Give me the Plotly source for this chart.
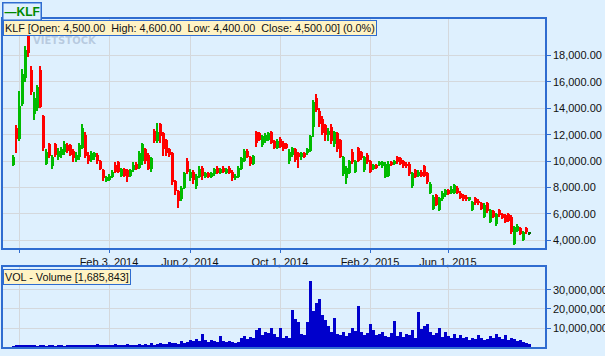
import plotly.graph_objects as go

# ---------------- data ----------------
opens = [9700,12500,11700,14300,16300,19500,16900,13600,14000,16900,
         13400,9800,11300,9600,11300,10300,10500,10700,11200,11200,
         10800,10100,10300,11000,12000,10500,10100,10300,10500,10000,
         9300,8500,8600,8800,9700,9900,8900,9400,9300,8900,
         9300,9800,9500,10000,10900,10500,9400,12300,11500,12800,
         12100,11600,10900,10600,8500,7700,7100,8000,10000,8700,
         9200,8100,8800,9500,8800,9100,8800,9000,9500,9100,
         9500,9100,9500,9200,8700,8800,9400,10000,10800,10300,
         9800,12200,12100,11200,11500,11600,12200,11500,11000,11700,
         11400,11300,10000,10500,10900,10600,10300,10600,10600,10800,
         12600,14800,13800,13200,12700,12000,12600,11300,12100,11600,
         9000,8700,9100,10700,9200,11000,10700,9300,10500,10000,
         9400,9700,9700,9600,8800,8900,9900,9800,10300,10200,
         10000,9800,9800,8100,9300,8900,9200,9600,9100,7600,
         6400,7400,6300,7100,7400,7800,7600,7600,8000,7600,
         7400,7300,7050,6300,7200,7000,6800,5800,6800,5400,
         6200,5200,6300,6000,5900,6000,5800,3700,4700,4900,
         4000,4900,4500]

highs = [10500,12700,15300,17000,18700,19700,17200,15200,15800,17200,
         13500,10900,11400,10500,11400,11000,11100,11500,11400,11300,
         10900,10700,11400,12800,12200,10700,10800,10700,10600,10100,
         9400,8900,9000,9300,9900,10000,9500,9500,9400,9400,
         9900,9900,10800,11400,11000,10600,10300,12400,12900,12900,
         12200,11700,11000,10700,8600,7800,8100,9200,10200,9400,
         9300,9000,9600,9600,9200,9200,9200,9500,9600,9500,
         9600,9500,9600,9300,9000,9600,10300,10900,10900,10400,
         10500,12300,12200,12000,12100,12200,12300,11600,11700,11800,
         11500,11400,10900,11100,11000,10700,10700,10700,11000,12000,
         14600,15060,14000,13400,12800,12500,12800,12300,12200,11700,
         10400,9600,10100,10900,10100,11100,10800,10400,10600,10100,
         9800,9800,10000,10000,9900,10000,10000,10100,10400,10300,
         10100,9900,9900,9200,9400,9300,9300,9700,9200,8400,
         7400,7500,7300,7700,7900,7900,8100,8300,8100,7700,
         7500,7400,7300,7000,7300,7100,6900,6800,6900,6400,
         6300,6100,6400,6100,6000,6100,5900,5100,5200,5000,
         4700,5000,4600]

lows = [9600,10600,11500,14200,16000,17900,15000,13100,13800,14000,
        10800,9700,10200,9400,10300,10100,10200,10500,10600,10400,
        9900,9900,10100,10900,10200,9800,9900,10100,9800,9300,
        8500,8400,8500,8700,9100,9100,8800,8800,8400,8800,
        9200,9300,9400,9700,9800,9300,9200,11400,11400,11400,
        10400,10400,10300,8200,7400,6450,7000,7900,9000,8500,
        8300,7900,8700,8600,8700,8700,8700,8900,9000,9000,
        9100,9000,9000,8500,8600,8700,9300,9900,10200,9600,
        9700,11100,11500,11100,11400,11500,11300,10900,10900,11000,
        10800,10900,9800,10300,9900,9500,10100,10200,10500,10700,
        11800,13700,12600,12000,11500,11500,11300,11100,10700,10200,
        8900,8300,9000,9800,9100,9900,10100,9200,9800,9100,
        9300,9400,9600,9500,8700,8800,9600,9700,9800,9700,
        9500,9500,8900,8000,8700,8800,8800,8800,8300,7500,
        6300,6600,6200,7000,7300,7400,7500,7500,7500,7100,
        7000,7000,7000,6200,6700,6700,6300,5700,6100,5300,
        5700,5100,5800,5600,5300,5400,4500,3650,4600,4400,
        3950,4500,4400]

closes = [10300,11700,14200,16600,18400,18200,15200,14800,15600,14100,
          11000,10700,10400,10300,10500,10800,10900,11300,10800,10500,
          10200,10500,11200,12500,10400,10000,10600,10600,10000,9400,
          8700,8800,8900,9200,9200,9200,9400,8900,8800,9300,
          9700,9400,10600,11300,10000,9400,10200,11500,12200,11900,
          10900,10600,10500,8400,7700,7000,8000,9100,9200,9200,
          8600,8900,9400,8900,9100,8800,9100,9400,9100,9400,
          9200,9400,9100,8700,8900,9500,10200,10800,10300,9800,
          10400,11400,11600,11900,12000,12100,11400,11000,11500,11100,
          10900,11000,10700,11000,10100,10300,10600,10300,10900,11900,
          14500,13900,12800,12100,12000,12300,11500,12200,10900,10300,
          10300,9500,10000,9900,10000,10000,10200,10300,9900,9200,
          9700,9500,9900,9900,9800,9800,9700,10000,9900,9800,
          9600,9600,9000,9100,8800,9200,8900,8900,8400,8300,
          7300,6700,7200,7600,7800,7500,7900,8200,7600,7200,
          7100,7100,7250,6900,6800,6800,6400,6700,6200,6300,
          5800,6000,5900,5700,5400,5500,4600,5000,5100,4500,
          4600,4600,4500]

volume_mn = [0.4,0.9,0.7,0.6,0.8,1.0,0.7,0.6,0.5,0.6,
             0.6,0.5,0.7,0.6,0.5,0.6,0.7,0.5,0.6,0.6,
             0.7,0.6,0.9,1.2,0.8,0.6,1.0,0.8,1.5,1.0,
             1.3,0.9,1.1,1.0,1.4,0.9,1.2,1.0,1.5,1.1,
             1.3,1.0,1.6,1.2,1.4,1.1,1.9,1.3,1.6,2.1,
             1.7,1.4,2.5,1.9,2.3,1.8,2.9,2.1,2.5,3.5,
             3.0,4.2,3.2,7.0,3.5,2.8,3.6,3.0,2.6,5.8,
             3.2,2.5,3.0,2.4,2.2,2.8,4.5,6.0,4.2,5.5,
             4.8,9.0,10.2,6.5,8.0,7.2,9.8,6.8,5.2,10.0,
             4.5,6.0,5.0,19.5,15.0,13.0,7.0,6.5,13.0,34.7,
             19.0,23.0,25.0,17.0,14.0,11.0,8.0,15.5,7.0,6.5,
             8.0,6.0,7.5,10.0,8.5,21.6,8.0,6.5,7.5,12.0,
             9.0,6.5,7.0,8.0,6.0,5.5,7.5,13.5,6.0,8.0,
             5.5,7.0,6.5,9.0,5.0,18.5,9.5,11.0,12.0,8.0,
             6.5,7.5,10.0,5.5,8.0,6.0,4.5,7.0,5.0,6.5,
             4.5,5.5,3.8,5.0,4.2,6.5,5.0,3.5,4.0,6.0,
             4.5,6.8,5.5,4.0,6.5,3.5,5.0,4.2,3.0,3.8,
             2.5,2.2,1.7]

tick_bar_index = [2, 32, 59, 89, 119, 145]
tick_labels = ["", "Feb 3, 2014", "Jun 2, 2014", "Oct 1, 2014", "Feb 2, 2015", "Jun 1, 2015"]
price_ticks = [4000, 6000, 8000, 10000, 12000, 14000, 16000, 18000]
volume_ticks = [10000000, 20000000, 30000000]

# ---------------- styling ----------------
BG = "#def0fe"
GRID = "#d4d8dc"
BORDER = "#2f6cd0"
UP = "#00bb00"
DOWN = "#ff0000"
DOJI = "#006a00"
VOLC = "#0000cc"
FONT = "Liberation Sans, Arial, sans-serif"

n = len(closes)
idx = list(range(n))
colors = [DOJI if c == o else (UP if c > o else DOWN) for o, c in zip(opens, closes)]
volumes = [v * 1e6 for v in volume_mn]

fig = go.Figure()
# wicks
fig.add_trace(go.Bar(x=idx, base=lows, y=[h - l for h, l in zip(highs, lows)],
                     width=0.4, marker=dict(color=colors, line=dict(width=0)),
                     hoverinfo="skip", xaxis="x", yaxis="y", showlegend=False))
# bodies
fig.add_trace(go.Bar(x=idx, base=[min(o, c) for o, c in zip(opens, closes)],
                     y=[max(abs(c - o), 60) for o, c in zip(opens, closes)],
                     width=1.0, marker=dict(color=colors, line=dict(width=0)),
                     hoverinfo="skip", xaxis="x", yaxis="y", showlegend=False))
# volume
fig.add_trace(go.Bar(x=idx, y=volumes, width=1.0,
                     marker=dict(color=VOLC, line=dict(width=0)),
                     hoverinfo="skip", xaxis="x2", yaxis="y2", showlegend=False))

xr = [-3.333, 177.333]
common_x = dict(range=xr, tickvals=tick_bar_index, showgrid=True, gridcolor=GRID, gridwidth=1,
                zeroline=False, showline=True, mirror=True, linecolor=BORDER, linewidth=1.5,
                fixedrange=True)
fig.update_layout(
    width=605, height=356,
    margin=dict(l=3, r=60, t=19, b=9),
    paper_bgcolor=BG, plot_bgcolor=BG,
    barmode="overlay", bargap=0,
    font=dict(family=FONT, size=11, color="#111111"),
    xaxis=dict(**common_x, domain=[0, 1], anchor="y", ticktext=tick_labels,
               ticks="outside", ticklen=3, tickcolor=BORDER,
               tickfont=dict(family=FONT, size=11, color="#111111")),
    xaxis2=dict(**common_x, domain=[0, 1], anchor="y2", showticklabels=False, ticks=""),
    yaxis=dict(domain=[0.3018, 1], range=[3417, 20766], side="right", anchor="x",
               tickvals=price_ticks, tickformat=",.2f", ticks="outside", ticklen=4,
               tickcolor=BORDER, showgrid=True, gridcolor=GRID, zeroline=False,
               showline=True, mirror=True, linecolor=BORDER, linewidth=1.5,
               automargin=False, fixedrange=True),
    yaxis2=dict(domain=[0, 0.2439], range=[0, 42100000], side="right", anchor="x2",
                tickvals=volume_ticks, tickformat=",d", ticks="outside", ticklen=4,
                tickcolor=BORDER, showgrid=True, gridcolor=GRID, zeroline=False,
                showline=True, mirror=True, linecolor=BORDER, linewidth=1.5,
                automargin=False, fixedrange=True),
)

# watermark
fig.add_annotation(xref="paper", yref="paper", x=0.052, y=0.935, xanchor="left", yanchor="middle",
                   text="<b>VIETSTOCK</b>", showarrow=False,
                   font=dict(family="DejaVu Sans", size=10, color="rgba(110,130,165,0.35)"))

# info boxes
fig.add_annotation(xref="paper", yref="paper", x=0.0, y=0.997, xanchor="left", yanchor="top",
                   text="KLF [Open: 4,500.00  High: 4,600.00  Low: 4,400.00  Close: 4,500.00] (0.0%)",
                   showarrow=False, bgcolor="#fff3c4", bordercolor=BORDER, borderwidth=1, borderpad=1,
                   font=dict(family=FONT, size=10.8, color="#111111"))
fig.add_annotation(xref="paper", yref="paper", x=-0.002, y=1.052, xanchor="left", yanchor="top",
                   text="<b>—KLF</b>", showarrow=False, bgcolor=BG, bordercolor=BORDER,
                   borderwidth=1.5, borderpad=1,
                   font=dict(family=FONT, size=12, color="#008800"))
fig.add_annotation(xref="paper", yref="paper", x=0.0, y=0.238, xanchor="left", yanchor="top",
                   text="VOL - Volume [1,685,843]", showarrow=False,
                   bgcolor="#fff3c4", bordercolor=BORDER, borderwidth=1, borderpad=1,
                   font=dict(family=FONT, size=10.8, color="#111111"))

fig.write_html("out.html", config={"displayModeBar": False},
               post_script="document.body.style.margin='0';document.body.style.overflow='hidden';")
